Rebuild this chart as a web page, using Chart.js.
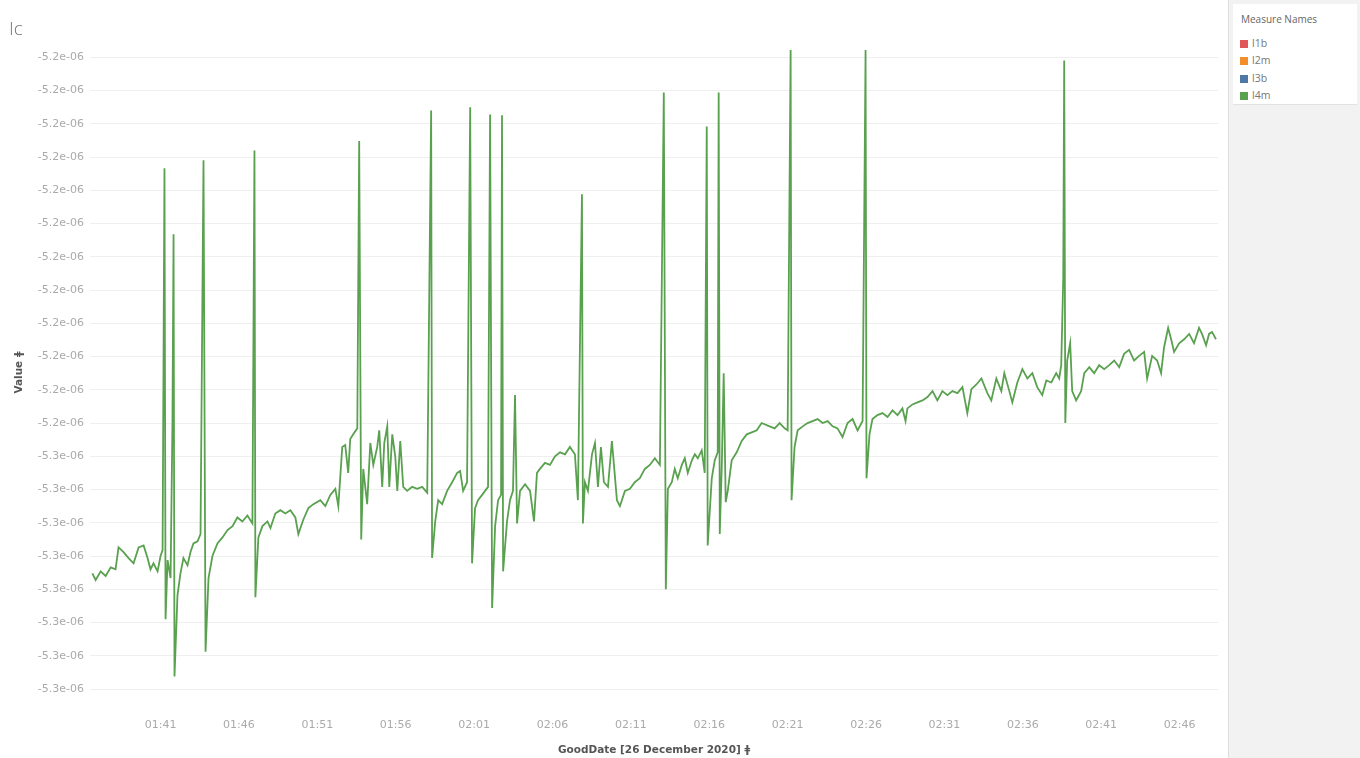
<!DOCTYPE html>
<html>
<head>
<meta charset="utf-8">
<script src="https://cdn.jsdelivr.net/npm/chart.js@4"></script>
<style>
  body { margin: 0; background: #fff; font-family: "Open Sans", "Noto Sans", sans-serif; }
  #wrap { position: relative; width: 1360px; height: 758px; overflow: hidden; }
  #chartBox { position: absolute; left: 0; top: 0; width: 1228px; height: 758px; }
  #title { position: absolute; left: 9px; top: 15px; font-size: 19px; color: #777; font-weight: 300; }
  #side { position: absolute; left: 1228px; top: 0; width: 132px; height: 758px; background: #f2f2f2; border-left: 1px solid #dedede; }
  #legend { position: absolute; left: 4px; top: 4px; width: 124px; height: 100px; background: #fff; border-bottom: 1px solid #e2e2e2; }
  #legend .head { position: absolute; left: 8px; top: 8px; font-size: 10px; color: #666; }
  #legend .item { position: absolute; left: 7px; font-size: 10.5px; color: #777; line-height: 12px; }
  #legend .sw { display: inline-block; width: 8px; height: 8px; margin-right: 4px; vertical-align: -1px; }
</style>
</head>
<body>
<div id="wrap">
  <div id="chartBox"><canvas id="lineChart" width="1228" height="758"></canvas></div>
  <div id="title">Ic</div>
  <div id="side">
    <div id="legend">
      <div class="head">Measure Names</div>
      <div id="legendItems"></div>
    </div>
  </div>
</div>
<script>
// 時刻は 0時からの経過分（01:41 = 101）
// 値は 1e-9 単位（-5250 → -5.25e-06）
const timeMin = [
  96.65,96.86,97.18,97.50,97.82,98.13,98.32,98.64,98.96,99.28,99.60,99.92,100.17,100.36,100.55,100.81,101.00,101.13,101.25,101.32,
  101.45,101.64,101.76,101.83,101.89,102.08,102.27,102.46,102.72,102.91,103.10,103.36,103.55,103.74,103.87,104.06,104.31,104.63,104.95,105.27,
  105.59,105.90,106.22,106.54,106.86,106.99,107.05,107.24,107.50,107.82,108.01,108.32,108.64,108.96,109.28,109.60,109.79,110.11,110.43,110.75,
  111.19,111.51,111.83,112.15,112.34,112.59,112.78,112.97,113.10,113.29,113.55,113.67,113.80,113.93,114.18,114.38,114.57,114.82,114.95,115.14,
  115.27,115.46,115.59,115.78,115.97,116.10,116.29,116.48,116.73,117.05,117.37,117.69,118.01,118.26,118.32,118.52,118.71,118.96,119.28,119.60,
  119.92,120.11,120.30,120.55,120.75,120.87,121.06,121.25,121.51,121.70,121.89,122.02,122.15,122.34,122.53,122.72,122.78,122.85,123.10,123.29,
  123.48,123.61,123.74,123.93,124.25,124.57,124.82,125.01,
  125.20,125.52,125.84,126.16,126.48,126.80,127.11,127.43,127.62,127.88,127.94,128.07,128.26,128.52,128.71,128.90,129.09,129.28,129.54,129.79,
  129.92,130.11,130.30,130.62,130.94,131.25,131.57,131.89,132.21,132.53,132.85,133.10,133.23,133.36,133.61,133.80,133.99,134.25,134.44,134.63,
  134.89,135.08,135.27,135.52,135.71,135.84,135.90,136.16,136.35,136.54,136.60,136.67,136.80,136.92,137.05,137.18,137.43,137.75,138.07,138.39,
  138.71,139.03,139.34,
  139.85,140.17,140.49,140.81,141.00,141.19,141.25,141.44,141.64,141.96,142.27,142.59,142.91,143.23,143.55,143.87,144.18,144.50,144.82,145.14,
  145.46,145.78,145.97,146.03,146.22,146.41,146.73,147.05,147.37,147.69,148.01,148.32,148.52,148.64,148.96,149.28,149.60,149.92,150.24,150.55,
  150.87,151.19,151.51,151.83,152.15,152.46,152.72,153.04,153.36,
  153.74,153.99,154.31,154.63,154.82,155.14,155.33,155.65,155.97,156.29,156.61,156.92,157.24,157.50,157.82,158.13,158.32,158.45,158.58,158.64,
  158.71,158.83,159.02,159.15,159.40,159.72,159.92,160.24,160.55,160.87,161.19,161.51,161.83,162.15,162.46,162.78,163.10,163.42,163.74,163.93,
  164.25,164.57,164.82,165.01,165.27,165.46,165.65,165.97,166.29,166.61,166.92,167.24,167.43,167.69,167.88,168.07,168.32
];

const valueE9 = [
  -5269.6,-5270.6,-5269.3,-5270.0,-5268.7,-5269.0,-5265.7,-5266.4,-5267.3,-5268.1,-5265.7,-5265.4,-5267.3,-5269.0,-5268.1,-5269.3,-5267.0,-5266.1,-5208.7,-5276.5,
  -5267.6,-5270.3,-5246.7,-5218.6,-5285.1,-5272.9,-5269.6,-5267.3,-5268.4,-5266.4,-5265.1,-5264.8,-5263.7,-5207.5,-5281.4,-5270.3,-5267.0,-5265.1,-5264.2,-5263.1,
  -5262.5,-5261.2,-5261.8,-5260.9,-5262.1,-5206.0,-5273.2,-5264.2,-5262.5,-5261.8,-5262.8,-5260.6,-5260.1,-5260.6,-5260.1,-5261.2,-5263.7,-5261.5,-5259.8,-5259.2,
  -5258.6,-5259.5,-5257.8,-5256.9,-5259.5,-5250.6,-5250.3,-5254.5,-5249.4,-5248.7,-5247.8,-5204.6,-5264.5,-5253.9,-5259.2,-5250.0,-5253.3,-5250.6,-5248.1,-5256.6,
  -5250.0,-5247.5,-5256.6,-5248.7,-5252.0,-5257.2,-5249.7,-5256.6,-5257.2,-5256.6,-5256.9,-5256.6,-5257.5,-5200.0,-5267.3,-5261.8,-5258.6,-5259.2,-5257.2,-5255.9,
  -5254.5,-5254.2,-5257.2,-5255.9,-5199.5,-5268.1,-5259.8,-5258.6,-5257.8,-5257.2,-5256.6,-5200.6,-5274.8,-5262.5,-5258.6,-5257.8,-5200.7,-5269.3,-5261.8,-5258.6,
  -5257.2,-5242.8,-5262.1,-5257.2,-5256.2,-5257.2,-5261.8,-5254.5,
  -5253.9,-5253.0,-5253.3,-5252.0,-5251.4,-5251.7,-5250.6,-5251.7,-5258.6,-5212.6,-5262.1,-5255.9,-5257.2,-5251.7,-5250.0,-5256.6,-5250.6,-5255.9,-5256.6,-5249.7,
  -5253.3,-5258.6,-5259.5,-5257.2,-5256.9,-5255.9,-5255.3,-5253.9,-5253.3,-5252.3,-5253.3,-5197.3,-5272.0,-5256.9,-5255.9,-5253.9,-5255.3,-5253.3,-5252.3,-5254.5,
  -5252.6,-5251.7,-5252.3,-5251.1,-5254.5,-5202.4,-5265.4,-5255.3,-5252.6,-5251.4,-5197.3,-5263.7,-5253.3,-5239.5,-5258.9,-5257.2,-5252.6,-5251.4,-5249.7,-5248.7,
  -5248.4,-5248.1,-5247.0,
  -5247.5,-5247.8,-5247.0,-5247.8,-5248.1,-5190.9,-5258.6,-5250.6,-5248.1,-5247.5,-5247.0,-5246.7,-5246.4,-5247.0,-5246.7,-5247.5,-5247.8,-5249.1,-5247.0,-5246.4,
  -5248.1,-5246.7,-5190.9,-5255.3,-5248.7,-5246.4,-5245.8,-5245.5,-5246.1,-5245.1,-5245.8,-5244.8,-5246.7,-5244.8,-5244.2,-5243.9,-5243.6,-5243.1,-5242.2,-5243.6,
  -5242.2,-5242.8,-5242.2,-5242.5,-5241.6,-5245.5,-5241.9,-5241.2,-5240.3,
  -5242.5,-5243.6,-5240.3,-5242.2,-5239.5,-5242.2,-5243.9,-5240.9,-5238.9,-5240.3,-5239.5,-5241.6,-5242.8,-5240.6,-5240.9,-5239.5,-5240.3,-5238.3,-5225.2,-5192.5,
  -5247.0,-5237.6,-5235.0,-5242.2,-5243.6,-5242.2,-5239.5,-5238.6,-5239.5,-5238.3,-5238.9,-5238.3,-5237.6,-5238.6,-5236.6,-5236.0,-5237.6,-5236.9,-5236.3,-5240.3,
  -5236.9,-5237.6,-5239.5,-5235.6,-5232.7,-5234.4,-5236.3,-5235.0,-5234.4,-5233.6,-5235.0,-5232.7,-5233.6,-5235.3,-5233.6,-5233.3,-5234.4
];

// 目盛り
const xTickValues = [101, 106, 111, 116, 121, 126, 131, 136, 141, 146, 151, 156, 161, 166];
const yTickValues = [-5192, -5197, -5202, -5207, -5212, -5217, -5222, -5227, -5232, -5237,
                     -5242, -5247, -5252, -5257, -5262, -5267, -5272, -5277, -5282, -5287];

// 凡例
const seriesNames = ['l1b', 'l2m', 'l3b', 'l4m'];
const seriesColors = ['#e15759', '#f28e2b', '#4e79a7', '#59a14f'];

const tickFont = { family: '"DejaVu Sans", sans-serif', size: 11 };
const titleFont = { family: '"DejaVu Sans", sans-serif', size: 10.5, weight: 'bold' };

function fmtTime(v) {
  const h = Math.floor(v / 60);
  const m = Math.round(v - h * 60);
  return String(h).padStart(2, '0') + ':' + String(m).padStart(2, '0');
}

function fmtSci(v) {
  // -5.2e-6 → -5.2e-06
  return (v * 1e-9).toExponential(1).replace(/e([+-])(\d)$/, 'e$10$2');
}

// HTML legend
document.getElementById('legendItems').innerHTML = seriesNames.map((name, i) =>
  `<div class="item" style="top:${33 + i * 17.3}px"><span class="sw" style="background:${seriesColors[i]}"></span>${name}</div>`
).join('');

const ctx = document.getElementById('lineChart').getContext('2d');
new Chart(ctx, {
  type: 'line',
  data: {
    datasets: [{
      label: 'l4m',
      data: timeMin.map((t, i) => ({ x: t, y: valueE9[i] })),
      borderColor: '#59a14f',
      borderWidth: 1.8,
      pointRadius: 0,
      tension: 0
    }]
  },
  options: {
    responsive: false,
    animation: false,
    layout: { padding: { top: 40, right: 10, left: 0, bottom: 0 } },
    plugins: { legend: { display: false }, tooltip: { enabled: false } },
    scales: {
      x: {
        type: 'linear',
        min: 96.5,
        max: 168.45,
        afterBuildTicks: s => { s.ticks = xTickValues.map(v => ({ value: v })); },
        afterFit: s => { s.height = 53; },
        ticks: {
          callback: v => fmtTime(v),
          color: '#aaa',
          font: tickFont,
          padding: 6,
          maxRotation: 0,
          autoSkip: false
        },
        grid: { display: false },
        border: { display: false },
        title: {
          display: true,
          text: 'GoodDate [26 December 2020] ǂ',
          color: '#555',
          font: titleFont,
          padding: { top: 0, bottom: 1 }
        }
      },
      y: {
        min: -5289.4,
        max: -5189.4,
        afterBuildTicks: s => { s.ticks = yTickValues.map(v => ({ value: v })); },
        afterFit: s => { s.width = 90; },
        ticks: {
          callback: v => fmtSci(v),
          color: '#aaa',
          font: tickFont,
          padding: 6
        },
        grid: { color: '#efefef', drawTicks: false },
        border: { display: false },
        title: {
          display: true,
          text: 'Value ǂ',
          color: '#555',
          font: titleFont,
          padding: { top: 13, bottom: 0 }
        }
      }
    }
  }
});
</script>
</body>
</html>
